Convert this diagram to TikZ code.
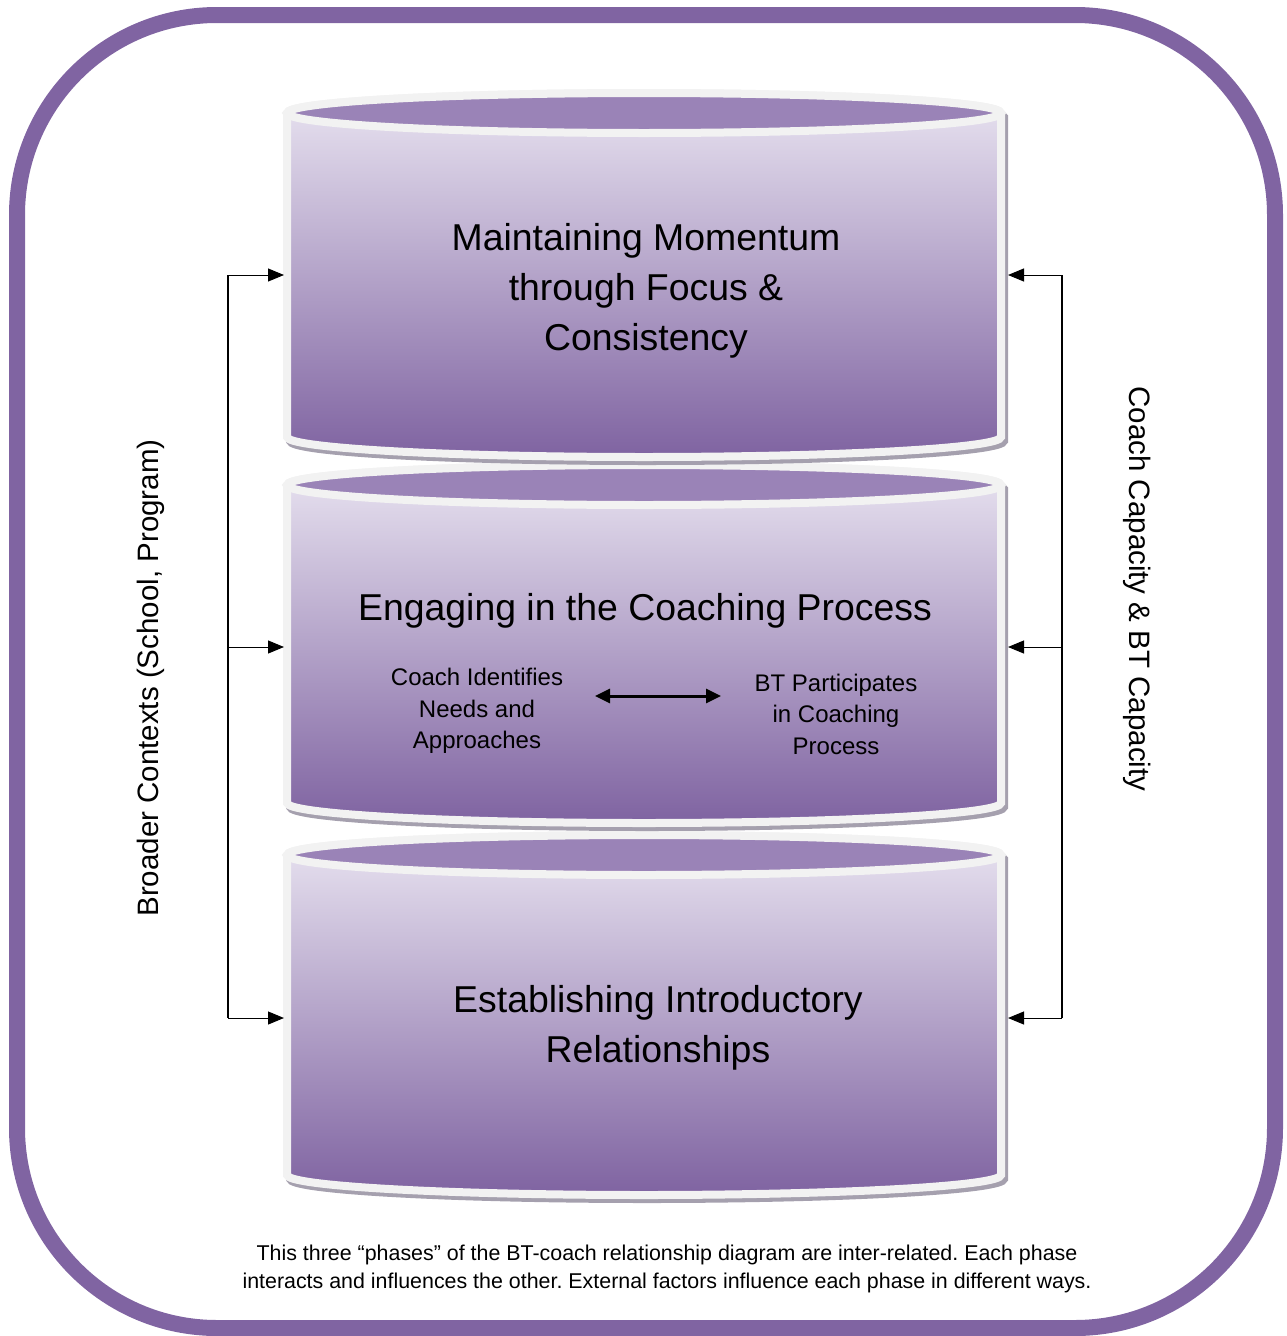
\documentclass[tikz,border=0pt]{standalone}
\usepackage{fontspec}
\setmainfont{Liberation Sans}
\usetikzlibrary{arrows.meta}
\frenchspacing
\definecolor{frameP}{RGB}{128,100,162}
\definecolor{rimG}{RGB}{242,242,242}
\definecolor{faceP}{RGB}{154,131,183}
\definecolor{bodyTop}{RGB}{233,228,241}
\definecolor{bodyBot}{RGB}{127,99,161}
\definecolor{shadowG}{RGB}{165,160,174}
\newcommand{\mycyl}[3]{%
  \path[fill=shadowG, draw=shadowG, line width=8, shift={(3,-4)}]
    (#1-357,#2) -- (#1-357,#3) arc[start angle=180,end angle=360,x radius=357,y radius=20]
    -- (#1+357,#2) arc[start angle=0,end angle=180,x radius=357,y radius=20] -- cycle;
  \path[top color=bodyTop, bottom color=bodyBot, draw=rimG, line width=8]
    (#1-357,#2) -- (#1-357,#3) arc[start angle=180,end angle=360,x radius=357,y radius=20]
    -- (#1+357,#2) arc[start angle=0,end angle=180,x radius=357,y radius=20] -- cycle;
  \path[fill=faceP, draw=rimG, line width=8] (#1,#2) ellipse[x radius=357, y radius=20];
}
\begin{document}
\begin{tikzpicture}[x=1pt,y=1pt,
  bigtext/.style={align=center, font=\fontsize{37.4}{50}\selectfont},
  midtext/.style={align=center, font=\fontsize{24}{31.5}\selectfont},
  sidetext/.style={font=\fontsize{29.5}{34}\selectfont},
  captext/.style={align=center, font=\fontsize{21.4}{28}\selectfont},
  vline/.style={line width=2, black},
  hline/.style={line width=1, black, -{Triangle[length=16,width=13]}},
  dbl/.style={line width=3, {Triangle[length=15,width=14]}-{Triangle[length=15,width=14]}}]
\useasboundingbox (0,0) rectangle (1287,-1336);
% outer frame
\draw[frameP, line width=16, rounded corners=200] (17,-15) rectangle (1275,-1328);
% cylinders (bottom first so upper shadows overlap correctly)
\mycyl{644}{-855}{-1175}
\mycyl{644}{-485}{-803}
\mycyl{644}{-113}{-437}
% text
\node[bigtext] (t1) at (646,-291) {Maintaining Momentum\\through Focus \&\\Consistency};
\node[bigtext] (t2) at (645,-611) {Engaging in the Coaching Process};
\node[midtext] (t2a) at (477,-711) {Coach Identifies\\Needs and\\Approaches};
\node[midtext] (t2b) at (836,-714) {BT Participates\\in Coaching\\Process};
\node[bigtext] (t3) at (658,-1028) {Establishing Introductory\\Relationships};
\node[sidetext, rotate=90] (lt) at (151,-678) {Broader Contexts (School, Program)};
\node[sidetext, rotate=-90] (rt) at (1137,-589) {Coach Capacity \& BT Capacity};
\node[captext] (capt) at (667,-1269) {This three “phases” of the BT-coach relationship diagram are inter-related. Each phase\\interacts and influences the other. External factors influence each phase in different ways.};
% middle double arrow
\coordinate (da1) at (595,-696);
\coordinate (da2) at (721,-696);
\draw[dbl, black!30, shift={(1,-4)}] (da1) -- (da2);
\draw[dbl, black] (da1) -- (da2);
% connector coordinates
\coordinate (L1) at (228,-275);
\coordinate (L2) at (228,-647);
\coordinate (L3) at (228,-1018);
\coordinate (cL1) at (284,-275);
\coordinate (cL2) at (284,-647);
\coordinate (cL3) at (284,-1018);
\coordinate (R1) at (1062,-275);
\coordinate (R2) at (1062,-647);
\coordinate (R3) at (1062,-1018);
\coordinate (cR1) at (1008,-275);
\coordinate (cR2) at (1008,-647);
\coordinate (cR3) at (1008,-1018);
\draw[vline] (L1) -- (L3);
\draw[vline] (R1) -- (R3);
\draw[hline] (L1) -- (cL1);
\draw[hline] (L2) -- (cL2);
\draw[hline] (L3) -- (cL3);
\draw[hline] (R1) -- (cR1);
\draw[hline] (R2) -- (cR2);
\draw[hline] (R3) -- (cR3);
\end{tikzpicture}
\end{document}
